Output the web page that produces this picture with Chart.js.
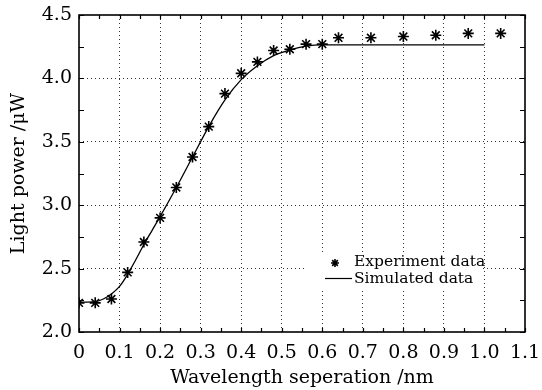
<!DOCTYPE html>
<html>
<head>
<meta charset="utf-8">
<script src="https://cdn.jsdelivr.net/npm/chart.js@4.4.1/dist/chart.umd.min.js"></script>
<style>
  html, body { margin: 0; padding: 0; background: #fff; }
  #wrap { width: 542px; height: 390px; position: relative; }
</style>
</head>
<body>
<div id="wrap"><canvas id="c" width="542" height="390"></canvas></div>
<script>
// ---- data ----
const expX = [0, 0.04, 0.08, 0.12, 0.16, 0.20, 0.24, 0.28, 0.32, 0.36, 0.40, 0.44, 0.48, 0.52, 0.56, 0.60, 0.64, 0.72, 0.80, 0.88, 0.96, 1.04];
const expY = [2.23, 2.23, 2.26, 2.47, 2.71, 2.90, 3.14, 3.38, 3.62, 3.88, 4.04, 4.13, 4.22, 4.23, 4.27, 4.27, 4.32, 4.32, 4.33, 4.34, 4.355, 4.355];
const simX = [0, 0.04, 0.06, 0.08, 0.10, 0.12, 0.14, 0.16, 0.18, 0.20, 0.24, 0.28, 0.32, 0.36, 0.40, 0.44, 0.48, 0.52, 0.56, 0.60, 1.00];
const simY = [2.235, 2.24, 2.26, 2.30, 2.36, 2.455, 2.57, 2.69, 2.80, 2.91, 3.14, 3.38, 3.62, 3.83, 3.99, 4.10, 4.18, 4.225, 4.255, 4.265, 4.265];
const seriesNames = ['Experiment data', 'Simulated data'];
const xTitle = 'Wavelength seperation /nm';
const yTitle = 'Light power /\u03bcW';
const xRange = [0, 1.1];
const yRange = [2.0, 4.5];

const FONT = 'DejaVu Serif';

const framePlugin = {
  id: 'frame',
  afterDraw(chart) {
    const {ctx, chartArea: a, scales: {x, y}} = chart;
    ctx.save();
    // legend box (white background hides grid behind it)
    const lx = a.right - 190, ly = a.bottom - 69;
    ctx.fillStyle = '#fff';
    ctx.fillRect(lx - 29, ly - 11, 176, 38);
    // inward ticks on all four sides
    ctx.strokeStyle = '#000';
    ctx.lineWidth = 1.2;
    ctx.beginPath();
    for (let v = xRange[0]; v <= xRange[1] + 1e-9; v += 0.05) {
      const px = Math.round(x.getPixelForValue(v)) + 0.5;
      ctx.moveTo(px, a.bottom); ctx.lineTo(px, a.bottom - 4);
      ctx.moveTo(px, a.top); ctx.lineTo(px, a.top + 4);
    }
    for (let v = yRange[0]; v <= yRange[1] + 1e-9; v += 0.25) {
      const py = Math.round(y.getPixelForValue(v)) + 0.5;
      ctx.moveTo(a.left, py); ctx.lineTo(a.left + 5, py);
      ctx.moveTo(a.right, py); ctx.lineTo(a.right - 5, py);
    }
    ctx.stroke();
    ctx.lineWidth = 1.6;
    ctx.strokeRect(a.left, a.top, a.right - a.left, a.bottom - a.top);
    // legend entries
    Chart.helpers.drawPoint(ctx, {pointStyle: 'star', radius: 4, borderWidth: 1.5}, lx, ly);
    ctx.beginPath();
    ctx.lineWidth = 1.2;
    ctx.moveTo(lx - 10, ly + 15.5); ctx.lineTo(lx + 17, ly + 15.5);
    ctx.stroke();
    ctx.fillStyle = '#000';
    ctx.font = '15.5px "' + FONT + '"';
    ctx.textBaseline = 'middle';
    ctx.fillText(seriesNames[0], lx + 19, ly - 1);
    ctx.fillText(seriesNames[1], lx + 19, ly + 16);
    ctx.restore();
  }
};

const gridColor = (ctx, edgeVals) => {
  const v = ctx.tick ? ctx.tick.value : null;
  if (v === null) return 'rgba(0,0,0,0)';
  for (const e of edgeVals) if (Math.abs(v - e) < 1e-9) return 'rgba(0,0,0,0)';
  return '#333';
};

new Chart(document.getElementById('c'), {
  type: 'scatter',
  data: {
    datasets: [
      {
        label: seriesNames[0],
        data: expX.map((v, i) => ({x: v, y: expY[i]})),
        pointStyle: 'star',
        pointRadius: 5.5,
        borderColor: '#000',
        backgroundColor: '#000',
        borderWidth: 1.6,
        showLine: false,
        order: 1
      },
      {
        label: seriesNames[1],
        data: simX.map((v, i) => ({x: v, y: simY[i]})),
        showLine: true,
        pointRadius: 0,
        borderColor: '#000',
        borderWidth: 1.3,
        cubicInterpolationMode: 'monotone',
        order: 2
      }
    ]
  },
  options: {
    responsive: false,
    animation: false,
    layout: {padding: {top: 15, right: 17, left: 0, bottom: 0}},
    plugins: {legend: {display: false}, tooltip: {enabled: false}},
    scales: {
      x: {
        type: 'linear',
        min: xRange[0], max: xRange[1],
        afterFit: s => { s.height = 58; s.paddingLeft = 0; s.paddingRight = 0; },
        ticks: {
          stepSize: 0.1,
          padding: 10,
          color: '#000',
          font: {family: FONT, size: 19},
          callback: v => (Math.abs(v) < 1e-9 ? '0' : v.toFixed(1))
        },
        grid: {drawTicks: false, color: c => gridColor(c, xRange), lineWidth: 1},
        border: {display: false, dash: [1, 3]},
        title: {display: true, text: xTitle, color: '#000', font: {family: FONT, size: 19}, padding: {top: 0, bottom: 1}}
      },
      y: {
        type: 'linear',
        min: yRange[0], max: yRange[1],
        afterFit: s => { s.width = 79; s.paddingTop = 0; s.paddingBottom = 0; },
        ticks: {
          stepSize: 0.5,
          padding: 7,
          color: '#000',
          font: {family: FONT, size: 19},
          callback: v => v.toFixed(1)
        },
        grid: {drawTicks: false, color: c => gridColor(c, yRange), lineWidth: 1},
        border: {display: false, dash: [1, 3]},
        title: {display: true, text: yTitle, color: '#000', font: {family: FONT, size: 19}, padding: {top: 8, bottom: 0}}
      }
    }
  },
  plugins: [framePlugin]
});
</script>
</body>
</html>
